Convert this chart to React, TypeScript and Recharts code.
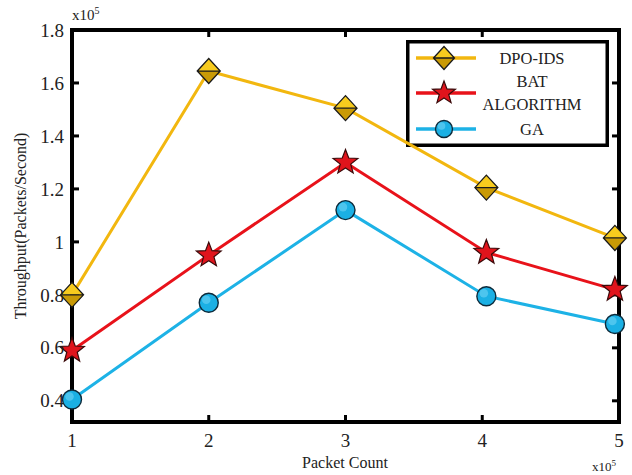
import React from "react";
import { LineChart, Line, XAxis, YAxis } from "recharts";

const packetCount = [1, 2, 3, 4.03, 4.97];
const dpoIds = [0.8, 1.645, 1.505, 1.205, 1.015];
const batAlgorithm = [0.59, 0.95, 1.3, 0.96, 0.82];
const ga = [0.405, 0.77, 1.12, 0.795, 0.69];
const xTicks = [1, 2, 3, 4, 5];
const yTicks = [0.4, 0.6, 0.8, 1, 1.2, 1.4, 1.6, 1.8];
const xDomain = [1, 5];
const yDomain = [0.32, 1.8];
const legendNames = ["DPO-IDS", "BAT", "ALGORITHM", "GA"];

const data = packetCount.map((x, i) => ({
  x,
  dpo: dpoIds[i],
  bat: batAlgorithm[i],
  ga: ga[i],
}));

const W = 632;
const H = 475;
const MARGIN = { top: 30, right: 13, bottom: 23, left: 12 };
const Y_AXIS_W = 60;
const X_AXIS_H = 30;
const PL = MARGIN.left + Y_AXIS_W;
const PR = W - MARGIN.right;
const PT = MARGIN.top;
const PB = H - MARGIN.bottom - X_AXIS_H;
const fx = (v: number) => PL + ((v - xDomain[0]) / (xDomain[1] - xDomain[0])) * (PR - PL);
const fy = (v: number) => PB - ((v - yDomain[0]) / (yDomain[1] - yDomain[0])) * (PB - PT);

const FONT = "'Liberation Serif', 'Times New Roman', serif";
const GOLD = "#F2B70F";
const RED = "#E8121A";
const CYAN = "#1DB2E6";

const Diamond = ({ cx, cy, w = 11.5, h = 12.5 }: any) => (
  <g>
    <path d={`M${cx - w},${cy} L${cx},${cy - h} L${cx + w},${cy} Z`} fill="#F7CB1E" />
    <path d={`M${cx - w},${cy} L${cx},${cy + h} L${cx + w},${cy} Z`} fill="#C99A06" />
    <path
      d={`M${cx - w},${cy} L${cx},${cy - h} L${cx + w},${cy} L${cx},${cy + h} Z M${cx - w},${cy} L${cx + w},${cy}`}
      fill="none"
      stroke="#1a1a1a"
      strokeWidth={1.3}
    />
  </g>
);

const Star = ({ cx, cy, R = 13, r = 5.5 }: any) => {
  const pts: string[] = [];
  for (let i = 0; i < 10; i++) {
    const rad = i % 2 === 0 ? R : r;
    const a = -Math.PI / 2 + (i * Math.PI) / 5;
    pts.push(`${cx + rad * Math.cos(a)},${cy + rad * Math.sin(a)}`);
  }
  return <polygon points={pts.join(" ")} fill="#E0141C" stroke="#3a0a0a" strokeWidth={1.2} />;
};

const Ball = ({ cx, cy, r = 9.5 }: any) => (
  <g>
    <circle cx={cx} cy={cy} r={r} fill="#1BB0E4" stroke="#0d2a3a" strokeWidth={1.4} />
    <circle cx={cx - 2.5} cy={cy - 3} r={r * 0.45} fill="#6FD3F5" opacity={0.6} />
  </g>
);

const diamondDot = (p: any) => <Diamond key={`d${p.index}`} cx={p.cx} cy={p.cy} />;
const starDot = (p: any) => <Star key={`s${p.index}`} cx={p.cx} cy={p.cy} />;
const ballDot = (p: any) => <Ball key={`b${p.index}`} cx={p.cx} cy={p.cy} />;

const BottomTick = (p: any) => (
  <text x={p.x} y={p.y} dy="0.71em" textAnchor="middle" fontFamily={FONT} fontSize={19} fill="#222">
    {String(p.payload.value)}
  </text>
);

const LeftTick = (p: any) => (
  <text x={p.x} y={p.y} dy="0.35em" textAnchor="end" fontFamily={FONT} fontSize={19} fill="#222">
    {String(p.payload.value)}
  </text>
);

export default function App() {
  const tl = 7;
  return (
    <div style={{ position: "absolute", left: 0, top: 0, width: W, height: H, background: "#fff" }}>
      <LineChart width={W} height={H} data={data} margin={MARGIN}>
        <XAxis
          dataKey="x"
          type="number"
          domain={xDomain}
          ticks={xTicks}
          height={X_AXIS_H}
          tickSize={0}
          tickMargin={12}
          tickLine={false}
          axisLine={{ stroke: "#000", strokeWidth: 4 }}
          tick={<BottomTick />}
          interval={0}
        />
        <YAxis
          type="number"
          domain={yDomain}
          ticks={yTicks}
          width={Y_AXIS_W}
          tickSize={0}
          tickMargin={8}
          tickLine={false}
          axisLine={{ stroke: "#000", strokeWidth: 4 }}
          tick={<LeftTick />}
          interval={0}
        />
        <g>
          <rect x={PL} y={PT} width={PR - PL} height={PB - PT} fill="none" stroke="#000" strokeWidth={4} />
          {yTicks.map((v) => (
            <g key={`yt${v}`}>
              <line x1={PL} x2={PL + tl} y1={fy(v)} y2={fy(v)} stroke="#000" strokeWidth={3} />
              <line x1={PR - tl} x2={PR} y1={fy(v)} y2={fy(v)} stroke="#000" strokeWidth={3} />
            </g>
          ))}
          {xTicks.map((v) => (
            <g key={`xt${v}`}>
              <line x1={fx(v)} x2={fx(v)} y1={PB} y2={PB - tl} stroke="#000" strokeWidth={3} />
              <line x1={fx(v)} x2={fx(v)} y1={PT} y2={PT + tl} stroke="#000" strokeWidth={3} />
            </g>
          ))}
        </g>
        <Line dataKey="dpo" stroke={GOLD} strokeWidth={3} dot={diamondDot} isAnimationActive={false} />
        <Line dataKey="bat" stroke={RED} strokeWidth={3} dot={starDot} isAnimationActive={false} />
        <Line dataKey="ga" stroke={CYAN} strokeWidth={3} dot={ballDot} isAnimationActive={false} />
        <g transform="translate(406,40)">
          <rect x={1.75} y={1.75} width={199.5} height={103.5} fill="#fff" stroke="#000" strokeWidth={3.5} />
          <line x1={10} x2={70} y1={18} y2={18} stroke={GOLD} strokeWidth={3.5} />
          <Diamond cx={38} cy={18} w={10.5} h={11.5} />
          <text x={126} y={18} dy="0.35em" textAnchor="middle" fontFamily={FONT} fontSize={16.5} fill="#222">
            {legendNames[0]}
          </text>
          <line x1={10} x2={70} y1={53} y2={53} stroke={RED} strokeWidth={3.5} />
          <Star cx={38} cy={53} R={12} r={5} />
          <text x={126} y={41} dy="0.35em" textAnchor="middle" fontFamily={FONT} fontSize={16.5} fill="#222">
            {legendNames[1]}
          </text>
          <text x={126} y={64} dy="0.35em" textAnchor="middle" fontFamily={FONT} fontSize={16.5} fill="#222">
            {legendNames[2]}
          </text>
          <line x1={10} x2={70} y1={89} y2={89} stroke={CYAN} strokeWidth={3.5} />
          <Ball cx={38} cy={89} r={8.5} />
          <text x={126} y={89} dy="0.35em" textAnchor="middle" fontFamily={FONT} fontSize={16.5} fill="#222">
            {legendNames[3]}
          </text>
        </g>
        <text x={72} y={20} fontFamily={FONT} fontSize={15} fill="#222">
          x10<tspan dy={-6} fontSize={10}>5</tspan>
        </text>
        <text x={592} y={471} fontFamily={FONT} fontSize={13} fill="#222">
          x10<tspan dy={-5} fontSize={9}>5</tspan>
        </text>
        <text x={345} y={468} textAnchor="middle" fontFamily={FONT} fontSize={16} fill="#222">
          Packet Count
        </text>
        <text
          x={26}
          y={226}
          textAnchor="middle"
          fontFamily={FONT}
          fontSize={16}
          fill="#222"
          transform="rotate(-90 26 226)"
        >
          Throughput(Packets/Second)
        </text>
      </LineChart>
    </div>
  );
}
